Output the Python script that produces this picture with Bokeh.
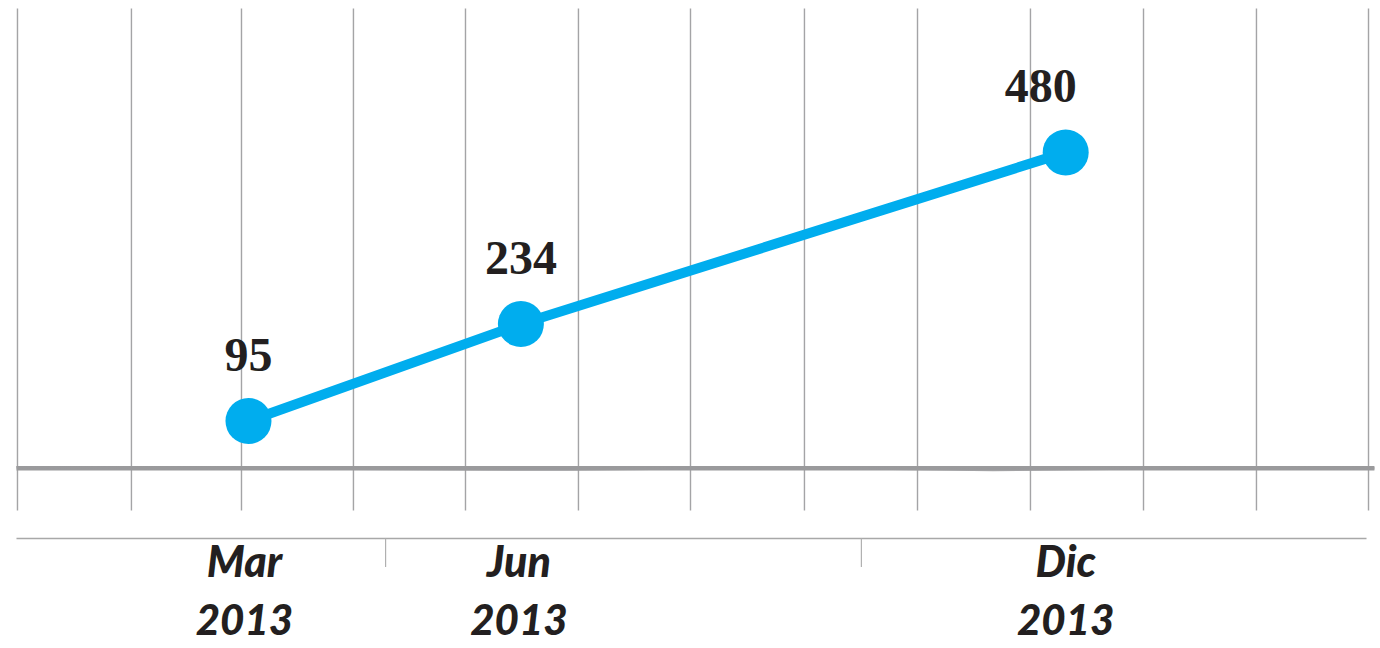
from bokeh.plotting import figure
from bokeh.models import ColumnDataSource, Range1d
from bokeh.core.properties import value
from bokeh.embed import file_html
from bokeh.resources import INLINE

# ---- data ----
months = ["Mar", "Jun", "Dic"]
years = ["2013", "2013", "2013"]
month_index = [3, 6, 12]
values = [95, 234, 480]

# ---- decoration (in data units) ----
grid_x = [0.456, 1.711, 2.923, 4.156, 5.390, 6.634, 7.868, 9.123,
          10.368, 11.612, 12.857, 14.101, 15.335]
separator_x = [4.51, 9.75]
label_dx = [0, 0, -25]
cat_dx = [-4, -2, 0]

BLUE = "#00ADEE"
GRAY = "#9a9a9c"
INK = "#231f20"

Y_TOP = 697.6
p = figure(width=1380, height=648, output_backend="svg", toolbar_location=None,
           x_range=Range1d(0.269, 15.467), y_range=Range1d(-230.8, Y_TOP),
           x_axis_type=None, y_axis_type=None,
           min_border=0, min_border_left=0, min_border_right=0,
           min_border_top=0, min_border_bottom=0,
           outline_line_color=None, background_fill_color="white",
           border_fill_color="white")
p.grid.visible = False

# vertical sketch grid lines
p.segment(x0=grid_x, y0=[686.0] * len(grid_x), x1=grid_x, y1=[-33.1] * len(grid_x),
          line_color=GRAY, line_width=1.4, line_alpha=0.9)

# baseline (thick, sketchy)
p.line(x=[0.445, 15.40], y=[27.3, 27.3], line_color=GRAY, line_width=4.5)
p.line(x=[0.445, 3.5, 6.5, 9.0, 11.2, 13.5, 15.40],
       y=[29.0, 27.0, 25.5, 28.5, 25.0, 28.0, 27.5],
       line_color=GRAY, line_width=2.5, line_alpha=0.85)

# lower axis line and separators
p.line(x=[0.445, 15.313], y=[-73.2, -73.2], line_color="#a8a8a8", line_width=1.5)
p.segment(x0=separator_x, y0=[-73.2] * 2, x1=separator_x, y1=[-114.0] * 2,
          line_color="#b0b0b0", line_width=1.2)

src = ColumnDataSource(dict(x=month_index, y=values,
                            lbl=[str(v) for v in values],
                            dx=label_dx, cdx=cat_dx, m=months, yr=years,
                            ym=[-104.8] * 3, yy=[-189.2] * 3))

p.line("x", "y", source=src, line_color=BLUE, line_width=10)
p.scatter("x", "y", source=src, marker="circle", size=46,
          fill_color=BLUE, line_color=None)

p.text("x", "y", text="lbl", source=src, x_offset="dx", y_offset=-66,
       text_font=value("Liberation Serif"), text_font_style="bold",
       text_font_size="48px", text_color=INK,
       text_align="center", text_baseline="alphabetic")

hand = value("Lato Black, Lato")
p.text("x", "ym", text="m", source=src, x_offset="cdx",
       text_font=hand, text_font_style="bold italic",
       text_font_size="43px", text_color=INK,
       text_align="center", text_baseline="middle")
p.text("x", "yy", text="yr", source=src, x_offset="cdx",
       text_font=hand, text_font_style="bold italic",
       text_font_size="42px", text_color=INK,
       text_align="center", text_baseline="middle")

open("out.html", "w").write(file_html(p, INLINE))
